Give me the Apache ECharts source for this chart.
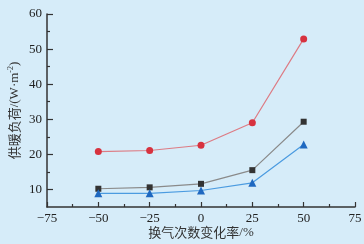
<!DOCTYPE html>
<html>
<head>
<meta charset="utf-8">
<script src="https://cdn.jsdelivr.net/npm/echarts@6/dist/echarts.min.js"></script>
<style>
  html, body { margin: 0; padding: 0; background: #d6ecf9; }
  #chart { width: 364px; height: 244px; }
</style>
</head>
<body>
<div id="chart"></div>
<script>
// 换气次数变化率 (%)
const rates = [-50, -25, 0, 25, 50];
// 供暖负荷 W/m2
const redLoad = [20.8, 21.1, 22.6, 29.0, 52.9];
const blackLoad = [10.2, 10.6, 11.6, 15.5, 29.3];
const blueLoad = [8.9, 8.9, 9.7, 11.9, 22.8];
const yMajor = [10, 20, 30, 40, 50, 60];
const yMinor = [15, 25, 35, 45, 55];

const pair = vals => rates.map((r, i) => [r, vals[i]]);
const serif = 'Liberation Serif';
const cjk = 'Noto Sans CJK SC';
const axisLineStyle = { color: '#333', width: 1.5 };
const tickStyle = { color: '#333', width: 1.2 };

const chart = echarts.init(document.getElementById('chart'));

const mkSeries = (vals, lineColor, markColor, symbol, size) => ({
  type: 'line',
  data: pair(vals),
  symbol: symbol,
  symbolSize: size,
  lineStyle: { color: lineColor, width: 1.2 },
  itemStyle: { color: markColor },
  z: symbol === 'circle' ? 3 : 2
});

chart.setOption({
  animation: false,
  backgroundColor: '#d6ecf9',
  grid: { left: 47, right: 9, top: 14, bottom: 37, containLabel: false, outerBoundsMode: 'none' },
  xAxis: {
    type: 'value',
    min: -75, max: 75, interval: 25,
    name: '{c|换气次数变化率}{a|/%}',
    nameLocation: 'middle',
    nameGap: 19,
    nameMoveOverlap: false,
    nameTextStyle: {
      rich: {
        c: { fontFamily: cjk, fontSize: 13, color: '#333' },
        a: { fontFamily: serif, fontSize: 13, color: '#333' }
      }
    },
    axisLine: { onZero: false, lineStyle: axisLineStyle },
    axisTick: { inside: true, length: 5, lineStyle: tickStyle },
    minorTick: { show: true, splitNumber: 2, length: 3, lineStyle: tickStyle },
    axisLabel: {
      fontFamily: serif, fontSize: 13, color: '#222', margin: 5,
      formatter: v => (v < 0 ? '\u2212' + Math.abs(v) : String(v))
    },
    splitLine: { show: false }
  },
  yAxis: [
    {
      type: 'value',
      min: 5, max: 60,
      name: '{c|供暖负荷}{a|/(W·m}{s|-2}{a|)}',
      nameLocation: 'middle',
      nameRotate: 90,
      nameGap: 25,
      nameMoveOverlap: false,
      nameTextStyle: {
        rich: {
          c: { fontFamily: cjk, fontSize: 13, color: '#333' },
          a: { fontFamily: serif, fontSize: 13, color: '#333' },
          s: { fontFamily: serif, fontSize: 8, color: '#333', verticalAlign: 'top', padding: [0, 0, 7, 0] }
        }
      },
      axisLine: { show: true, onZero: false, lineStyle: axisLineStyle },
      axisTick: { show: true, inside: true, length: 6, customValues: yMajor, lineStyle: tickStyle },
      axisLabel: { fontFamily: serif, fontSize: 13, color: '#222', margin: 5, customValues: yMajor },
      splitLine: { show: false }
    },
    {
      type: 'value',
      min: 5, max: 60,
      position: 'left',
      axisLine: { show: false, onZero: false },
      axisTick: { show: true, inside: true, length: 3, customValues: yMinor, lineStyle: tickStyle },
      axisLabel: { show: false },
      splitLine: { show: false }
    }
  ],
  series: [
    mkSeries(redLoad, '#dd7b84', '#d7323f', 'circle', 7),
    mkSeries(blackLoad, '#8a8a8a', '#333333', 'rect', 6),
    mkSeries(blueLoad, '#4b9be0', '#1f68c0', 'triangle', 8)
  ]
});
</script>
</body>
</html>
